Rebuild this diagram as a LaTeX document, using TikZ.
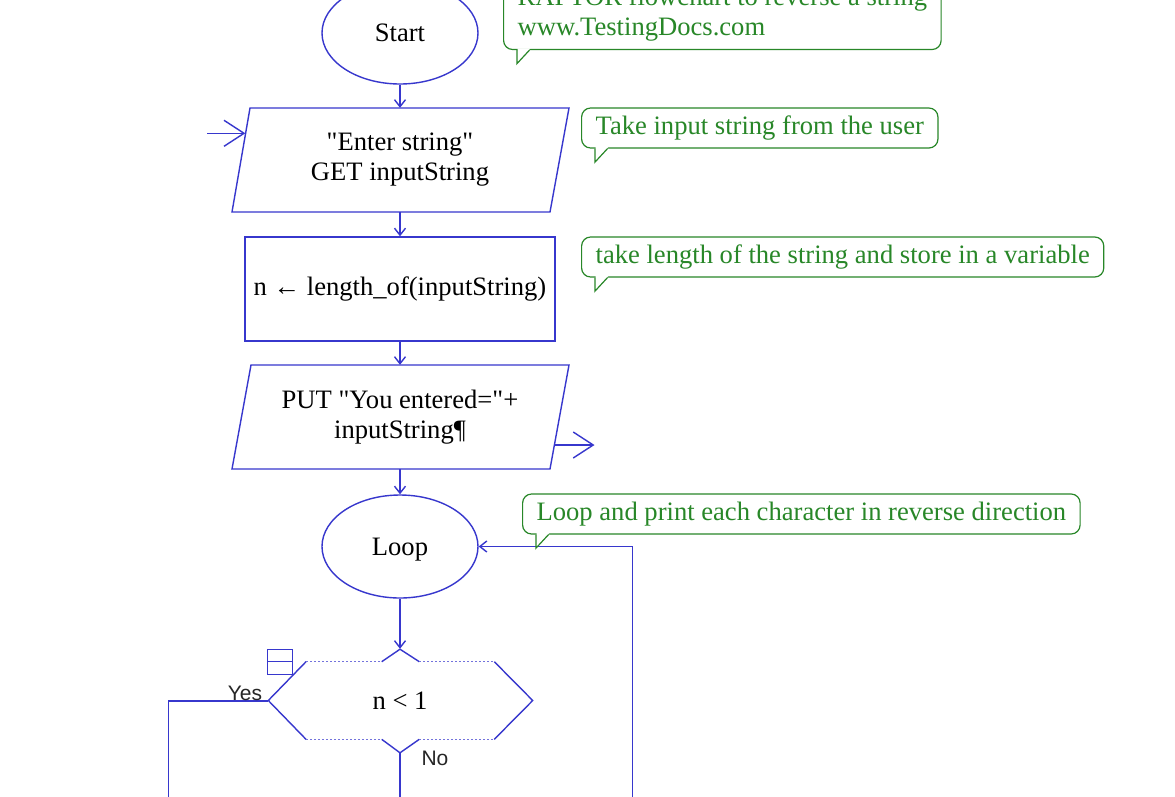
\documentclass[tikz,border=0pt]{standalone}
\usepackage{fontspec}
\setmainfont{Liberation Serif}[Ligatures=TeXOff]
\newfontfamily\labelfont{Liberation Sans}
\usetikzlibrary{arrows.meta,shapes.geometric}
\definecolor{fcblue}{RGB}{55,55,205}
\definecolor{cmgreen}{RGB}{40,135,40}
\newcommand{\calltail}[1]{%
  \fill[white] ([shift={(14.7,-1.8)}]#1.south west) -- ([shift={(14.7,12.5)}]#1.south west) -- ([shift={(27.5,-1.8)}]#1.south west) -- cycle;
  \draw[cmgreen, line width=1.2pt, line join=miter] ([shift={(14,0)}]#1.south west) -- ([shift={(14,13.5)}]#1.south west) -- ([shift={(26.5,0)}]#1.south west);}
\begin{document}
\begin{tikzpicture}[x=1pt,y=-1pt,
  flow/.style={draw=fcblue, line width=1.4pt},
  smalltip/.style={-{Straight Barb[length=7pt,width=11pt]}},
  bigtip/.style={-{Straight Barb[length=20pt,width=26pt]}},
  txt/.style={font=\fontsize{26.6}{30}\selectfont, text=black, align=center, inner sep=0pt},
  term/.style={ellipse, draw=fcblue, line width=1.4pt, minimum width=156pt, minimum height=102pt, txt},
  dotline/.style={draw=fcblue!70, line width=1pt, dash pattern=on 2pt off 2pt},
  lbl/.style={font=\labelfont\fontsize{21}{24}\selectfont, text=black!85, inner sep=0pt},
  callout/.style={draw=cmgreen, line width=1.2pt, rounded corners=9pt, text=cmgreen,
    font=\fontsize{26.6}{30}\selectfont, inner xsep=14pt, inner ysep=0pt, minimum height=40pt, anchor=west}
]
\fill[white] (0,0) rectangle (1175,796);
\path[use as bounding box] (0,0) rectangle (1175,796);
\clip (0,0) rectangle (1175,796);

% comments
\node[callout, align=left, minimum height=70pt] (c0) at (503,14.5) {RAPTOR flowchart to reverse a string\\www.TestingDocs.com};
\calltail{c0}
\node[callout] (c1) at (581,128) {Take input string from the user};
\calltail{c1}
\node[callout] (c2) at (581,257) {take length of the string and store in a variable};
\calltail{c2}

% flowchart nodes
\node[term] (start) at (400,33) {Start};

\node[txt, minimum width=309pt, minimum height=104pt] (get) at (400,160) {"Enter string"\\GET inputString};
\draw[flow, line join=miter] (250,108) -- (569,108) -- (550,212) -- (232,212) -- cycle;

\node[txt, draw=fcblue, line width=1.4pt, minimum width=310pt, minimum height=104pt] (assign) at (400,289) {n ← length\_of(inputString)};

\node[txt, minimum width=309pt, minimum height=104pt] (put) at (400,417) {PUT "You entered="+\\inputString¶};
\draw[flow, line join=miter] (251,365) -- (569,365) -- (550,469) -- (232,469) -- cycle;

\node[term, minimum height=103pt, text height=23pt, text depth=5.8pt] (loop) at (400,546.5) {Loop};

\node[txt, minimum width=264pt, minimum height=104pt] (dec) at (400,701) {n < 1};
\draw[flow] (306,661.7) -- (268.3,700.5) -- (306,739.3);
\draw[flow] (494.3,661.7) -- (532.7,700.5) -- (494.3,739.3);
\draw[flow] (381.7,661.7) -- (400,649.2) -- (419.3,661.7);
\draw[flow] (381.7,739.3) -- (400,752.8) -- (419.3,739.3);
\draw[dotline] (306,661.7) -- (381.7,661.7);
\draw[dotline] (419.3,661.7) -- (494.3,661.7);
\draw[dotline] (306,739.3) -- (381.7,739.3);
\draw[dotline] (419.3,739.3) -- (494.3,739.3);
\draw[flow, line width=1.2pt] (267.3,649.3) rectangle (292.7,674.3);
\draw[flow, line width=1.2pt] (267.3,661.7) -- (292.7,661.7);

% loop comment (drawn after back line so its tail sits on top)
\coordinate (backend) at (632.5,800);
\draw[flow, smalltip] (backend) |- (loop.east);
\node[callout, fill=white] (c3) at (522,514) {Loop and print each character in reverse direction};
\calltail{c3}

% connectors
\draw[flow, smalltip] (start) -- (get);
\draw[flow, smalltip] (get) -- (assign);
\draw[flow, smalltip] (assign) -- (put);
\draw[flow, smalltip] (put) -- (loop);
\draw[flow, smalltip] (loop) -- (dec);

\coordinate (inlead) at (207,133.3);
\draw[flow, bigtip] (inlead) -- (inlead -| get.west);
\coordinate (outlead) at (594.5,445);
\draw[flow, bigtip] (outlead -| put.east) -- (outlead);

\coordinate (yesend) at (168.3,800);
\draw[flow] (dec.west) -| (yesend);
\coordinate (noend) at (400,800);
\draw[flow] (dec) -- (noend);

\node[lbl] (yes) at (245,693) {Yes};
\node[lbl] (no) at (435,758) {No};
\end{tikzpicture}
\end{document}
